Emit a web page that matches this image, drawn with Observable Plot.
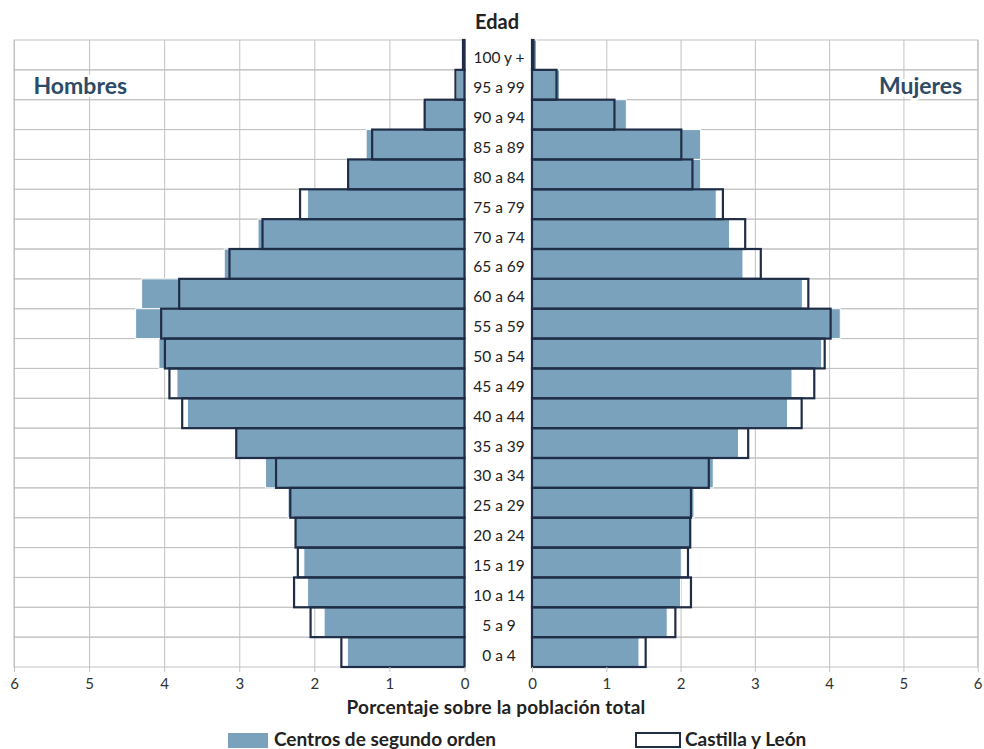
<!DOCTYPE html>
<html>
<head>
<meta charset="utf-8">
<script src="https://cdn.jsdelivr.net/npm/d3@7"></script>
<script src="https://cdn.jsdelivr.net/npm/@observablehq/plot@0.6"></script>
<style>
  html, body { margin: 0; padding: 0; background: #fff; }
  #wrap { position: relative; width: 984px; height: 749px; overflow: hidden; background: #fff; font-family: Lato, "Open Sans", sans-serif; }
  #wrap svg { position: absolute; left: 0; top: 0; }
  .lbl { position: absolute; font-weight: bold; color: #222; white-space: nowrap; }
  .sw { position: absolute; box-sizing: border-box; }
</style>
</head>
<body>
<div id="wrap">
  <div class="lbl" style="left:0; width:994px; text-align:center; top:9px; font-size:20px;">Edad</div>
  <div class="lbl" style="left:0; width:992px; text-align:center; top:695px; font-size:19px; letter-spacing:0.2px;">Porcentaje sobre la población total</div>
  <div class="sw" id="sw1" style="left:228px; top:733px; width:40px; height:15px;"></div>
  <div class="lbl" style="left:274px; top:727px; font-size:19px;">Centros de segundo orden</div>
  <div class="sw" id="sw2" style="left:635px; top:732px; width:46px; height:16px;"></div>
  <div class="lbl" style="left:685px; top:727px; font-size:19px;">Castilla y León</div>
</div>
<script>
// Age groups, top to bottom
const ages = ["100 y +","95 a 99","90 a 94","85 a 89","80 a 84","75 a 79","70 a 74","65 a 69","60 a 64","55 a 59","50 a 54","45 a 49","40 a 44","35 a 39","30 a 34","25 a 29","20 a 24","15 a 19","10 a 14","5 a 9","0 a 4"];
// Hombres (% of total population)
const hombresCentros = [0.02,0.11,0.55,1.31,1.55,2.09,2.75,3.20,4.30,4.38,4.07,3.83,3.69,3.04,2.65,2.35,2.25,2.14,2.09,1.87,1.56];
const hombresCyL     = [0.02,0.12,0.53,1.23,1.55,2.19,2.69,3.13,3.80,4.04,3.99,3.93,3.76,3.04,2.51,2.32,2.25,2.22,2.27,2.05,1.64];
// Mujeres
const mujeresCentros = [0.06,0.37,1.27,2.27,2.27,2.48,2.66,2.84,3.64,4.15,3.90,3.50,3.44,2.78,2.44,2.18,2.14,2.01,2.00,1.82,1.44];
const mujeresCyL     = [0.02,0.33,1.11,2.01,2.16,2.57,2.87,3.08,3.72,4.02,3.94,3.80,3.63,2.91,2.38,2.14,2.13,2.10,2.14,1.93,1.53];
const pctTicks = [0,1,2,3,4,5,6];
const seriesNames = ["Centros de segundo orden","Castilla y León"];
const panelTitles = ["Hombres","Mujeres"];

const FILL = "#7ba2bd";
const OUTLINE = "#1f2e46";
const GRID = "#c2c2c2";

const left = ages.map((age, i) => ({age, centros: hombresCentros[i], cyl: hombresCyL[i]}));
const right = ages.map((age, i) => ({age, centros: mujeresCentros[i], cyl: mujeresCyL[i]}));

function panel(data, side) {
  const isLeft = side === "left";
  return Plot.plot({
    width: 984,
    height: 700,
    marginTop: 40,
    marginBottom: 33,
    marginLeft: isLeft ? 14 : 532,
    marginRight: isLeft ? 519.5 : 6.3,
    x: {domain: [pctTicks[0], pctTicks[pctTicks.length - 1]], reverse: isLeft, axis: null},
    y: {domain: ages, padding: 0, round: false, axis: null},
    style: {background: "transparent", overflow: "visible", fontFamily: "Lato, 'Open Sans', sans-serif"},
    marks: [
      Plot.gridX({ticks: pctTicks, stroke: GRID, strokeOpacity: 1}),
      Plot.barX(ages, {x1: pctTicks[0], x2: pctTicks[pctTicks.length - 1], y: d => d, fill: "none", stroke: GRID, strokeWidth: 1}),
      Plot.barX(data, {x: "centros", y: "age", fill: FILL, stroke: "white", strokeWidth: 1}),
      Plot.barX(data, {x: "cyl", y: "age", fill: "none", stroke: OUTLINE, strokeWidth: 2.2}),
      Plot.axisX({ticks: pctTicks, tickSize: 5, tickPadding: 6, fontSize: 15, stroke: GRID, fill: "#333", label: null, tickFormat: d => d}),
      isLeft ? Plot.axisY({anchor: "right", tickSize: 0, tickPadding: 34, textAnchor: "middle", dy: 3, fontSize: 15.5, fill: "#222", label: null}) : null,
      Plot.text([panelTitles[isLeft ? 0 : 1]], {
        text: d => d,
        frameAnchor: isLeft ? "top-left" : "top-right",
        dx: isLeft ? 19 : -16,
        dy: 37,
        fontSize: 23,
        fontWeight: "bold",
        fill: "#2d4b66",
        stroke: "white",
        strokeWidth: 6
      })
    ]
  });
}

const wrap = document.getElementById("wrap");
wrap.insertBefore(panel(left, "left"), wrap.firstChild);
wrap.insertBefore(panel(right, "right"), wrap.firstChild);
document.getElementById("sw1").style.background = FILL;
document.getElementById("sw2").style.border = `2px solid ${OUTLINE}`;
</script>
</body>
</html>
